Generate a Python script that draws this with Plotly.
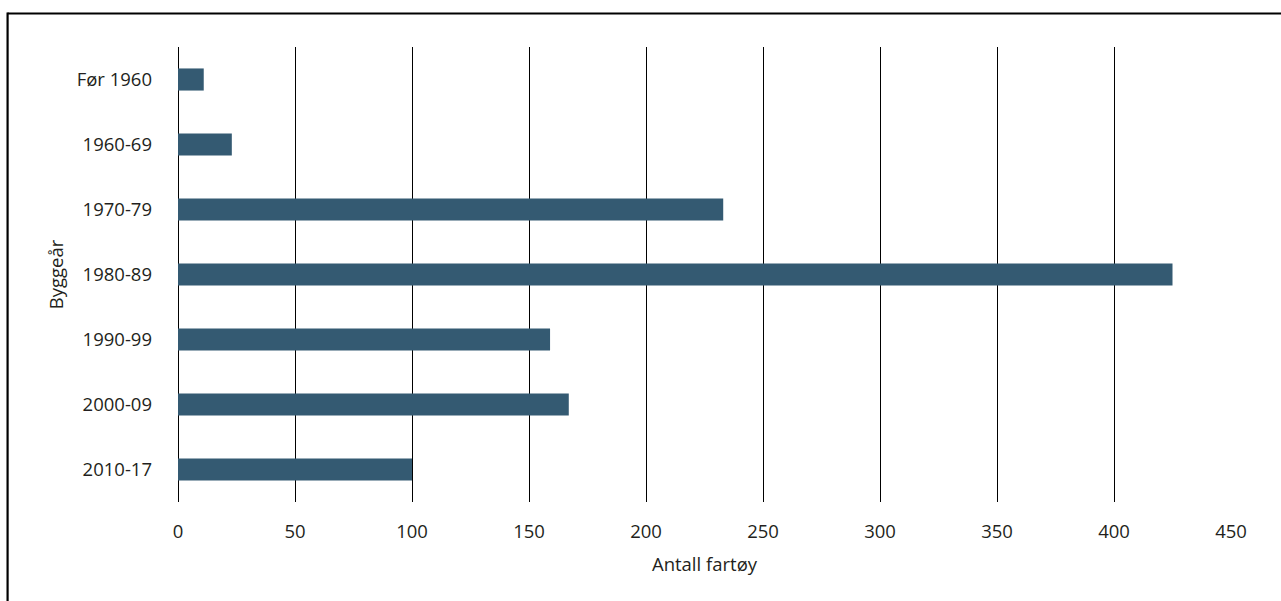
import plotly.graph_objects as go

# Antall fartøy etter byggeår
periods = ["Før 1960", "1960-69", "1970-79", "1980-89", "1990-99", "2000-09", "2010-17"]
vessels = [11, 23, 233, 425, 159, 167, 100]
x_ticks = [0, 50, 100, 150, 200, 250, 300, 350, 400, 450]

BAR_COLOR = "#345a72"
TEXT_COLOR = "#231f20"
FONT = "Open Sans, Lato, sans-serif"
FS = 18.5

fig = go.Figure(
    go.Bar(
        x=vessels,
        y=periods,
        orientation="h",
        marker=dict(color=BAR_COLOR, line=dict(width=0)),
        hoverinfo="x+y",
    )
)

W, H = 1281, 601
L, R, T, B = 177.5, 50, 47, 99
pw, ph = W - L - R, H - T - B

fig.update_layout(
    width=W,
    height=H,
    margin=dict(l=L, r=R, t=T, b=B),
    paper_bgcolor="white",
    plot_bgcolor="white",
    bargap=0.66,
    showlegend=False,
    font=dict(family=FONT, size=FS, color=TEXT_COLOR),
    xaxis=dict(
        type="linear",
        range=[0, 450],
        tickvals=x_ticks,
        showgrid=True,
        gridcolor="#000000",
        gridwidth=1,
        zeroline=True,
        zerolinecolor="#000000",
        zerolinewidth=1,
        showline=False,
        ticks="",
        ticklabelstandoff=16,
        tickfont=dict(size=FS),
        title=dict(text="Antall fartøy", font=dict(size=FS), standoff=16),
    ),
    yaxis=dict(
        type="category",
        categoryorder="array",
        categoryarray=periods,
        autorange="reversed",
        showgrid=False,
        zeroline=False,
        showline=False,
        ticks="",
        ticklabelstandoff=25,
        tickfont=dict(size=FS),
        title=dict(text="Byggeår", font=dict(size=FS), standoff=8),
    ),
    shapes=[
        # frame along the top and left edges of the figure
        dict(
            type="line", xref="paper", yref="paper",
            x0=(7 - L) / pw, x1=(W + 5 - L) / pw,
            y0=(H - B - 13.5) / ph, y1=(H - B - 13.5) / ph,
            line=dict(color="#000000", width=2.2),
        ),
        dict(
            type="line", xref="paper", yref="paper",
            x0=(7 - L) / pw, x1=(7 - L) / pw,
            y0=(H - B - 12.5) / ph, y1=(H - B - H - 5) / ph,
            line=dict(color="#000000", width=2.2),
        ),
    ],
)

fig.write_html("out.html")
